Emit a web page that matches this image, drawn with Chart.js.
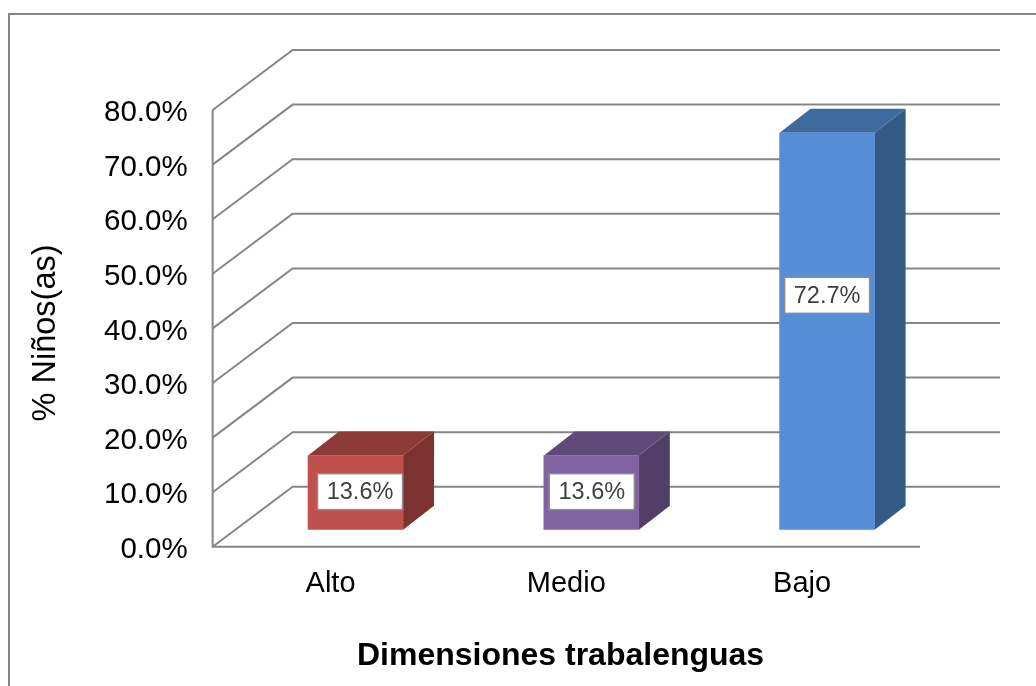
<!DOCTYPE html>
<html>
<head>
<meta charset="utf-8">
<title>Dimensiones trabalenguas</title>
<script src="https://cdn.jsdelivr.net/npm/chart.js@4"></script>
<style>
html,body{margin:0;padding:0;background:#fff;overflow:hidden}
#wrap{position:relative;width:1036px;height:686px}
</style>
</head>
<body>
<div id="wrap"><canvas id="mycanvas" width="1036" height="686"></canvas></div>
<script>
var categories=["Alto","Medio","Bajo"];
var valores=[13.6,13.6,72.7];
var labelsValor=["13.6%","13.6%","72.7%"];
var colorFrente=["#c0504d","#8064a2","#558ed5"];
var colorArriba=["#8e3a38","#5f4a78","#3f6a9f"];
var colorLado=["#7b3230","#523f68","#345a87"];
var colorLinea="#868686";

// offsets of the fake 3D box
var fondo={x:80,y:-60};
var barra={x:25,y:-17};
var prof={x:31,y:-24};
// the value boxes were moved by hand in the original
var movidoX=[4.5,0.5,0];
var movidoY=[-1,-1,-36];

var tresD={
	id:"tresD",
	beforeDraw:function(chart){
		// outer frame, cut by the picture edge
		var c=chart.ctx;
		c.save();
		c.strokeStyle=colorLinea;
		c.lineWidth=2;
		c.beginPath();
		c.moveTo(9,690);
		c.lineTo(9,14);
		c.lineTo(1040,14);
		c.stroke();
		c.restore();
	},
	beforeDatasetsDraw:function(chart){
		var c=chart.ctx,a=chart.chartArea,y=chart.scales.y;
		c.save();
		c.strokeStyle=colorLinea;
		c.lineWidth=2;
		// wall lines from the tick positions
		y.ticks.forEach(function(t){
			var py=y.getPixelForValue(t.value);
			c.beginPath();
			c.moveTo(a.left,py);
			c.lineTo(a.left+fondo.x,py+fondo.y);
			c.lineTo(a.right+fondo.x,py+fondo.y);
			c.stroke();
		});
		// axis
		c.beginPath();
		c.moveTo(a.left,y.getPixelForValue(80));
		c.lineTo(a.left,a.bottom);
		c.lineTo(a.right,a.bottom);
		c.stroke();
		c.restore();
		// sides of the bars
		var m=chart.getDatasetMeta(0);
		m.data.forEach(function(b,i){
			var p=b.getProps(["x","y","base","width"],true);
			var l=p.x-p.width/2+barra.x,r=p.x+p.width/2+barra.x;
			var t=p.y+barra.y,bo=p.base+barra.y;
			c.fillStyle=colorArriba[i];
			c.beginPath();
			c.moveTo(l,t);c.lineTo(l+prof.x,t+prof.y);c.lineTo(r+prof.x,t+prof.y);c.lineTo(r,t);
			c.closePath();c.fill();
			c.fillStyle=colorLado[i];
			c.beginPath();
			c.moveTo(r,t);c.lineTo(r+prof.x,t+prof.y);c.lineTo(r+prof.x,bo+prof.y);c.lineTo(r,bo);
			c.closePath();c.fill();
		});
		c.save();
		c.translate(barra.x,barra.y);
	},
	afterDatasetsDraw:function(chart){
		var c=chart.ctx;
		c.restore();
		var m=chart.getDatasetMeta(0);
		c.save();
		c.font="23.5px 'Liberation Sans'";
		c.textAlign="center";
		c.textBaseline="middle";
		m.data.forEach(function(b,i){
			var p=b.getProps(["x","y","base"],true);
			var cx=p.x+barra.x+movidoX[i],cy=(p.y+p.base)/2+barra.y+movidoY[i];
			c.fillStyle="#fff";
			c.strokeStyle="#8c8c8c";
			c.lineWidth=1.5;
			c.fillRect(cx-42.5,cy-18,85,36);
			c.strokeRect(cx-42.5,cy-18,85,36);
			c.fillStyle="#404040";
			c.fillText(labelsValor[i],cx,cy+1);
		});
		c.restore();
	}
};

var ctx=document.getElementById("mycanvas");
var barGraph=new Chart(ctx,{
	type:"bar",
	data:{
		labels:categories,
		datasets:[{
			label:"% Niños(as)",
			data:valores,
			backgroundColor:colorFrente,
			borderWidth:0,
			barThickness:95
		}]
	},
	options:{
		responsive:false,
		animation:false,
		layout:{padding:{left:27,top:110,right:116,bottom:11}},
		plugins:{legend:{display:false},tooltip:{enabled:false}},
		scales:{
			x:{
				grid:{display:false,drawTicks:false},
				border:{display:false},
				ticks:{color:"#000",font:{family:"Liberation Sans",size:29},padding:19.5,maxRotation:0},
				// trailing spaces nudge the centred text to the left, as in the original
				title:{display:true,text:"Dimensiones trabalenguas \u200a",color:"#000",font:{family:"Liberation Sans",size:32,weight:"bold"},padding:{top:16,bottom:0}}
			},
			y:{
				min:0,max:80,
				grid:{display:false,drawTicks:false},
				border:{display:false},
				ticks:{stepSize:10,color:"#000",font:{family:"Liberation Sans",size:29.5},padding:25,labelOffset:3,
					callback:function(v){return v.toFixed(1)+"%";}},
				title:{display:true,text:"% Niños(as) ",color:"#000",font:{family:"Liberation Sans",size:32.5},padding:{top:0,bottom:13}}
			}
		}
	},
	plugins:[tresD]
});
</script>
</body>
</html>
